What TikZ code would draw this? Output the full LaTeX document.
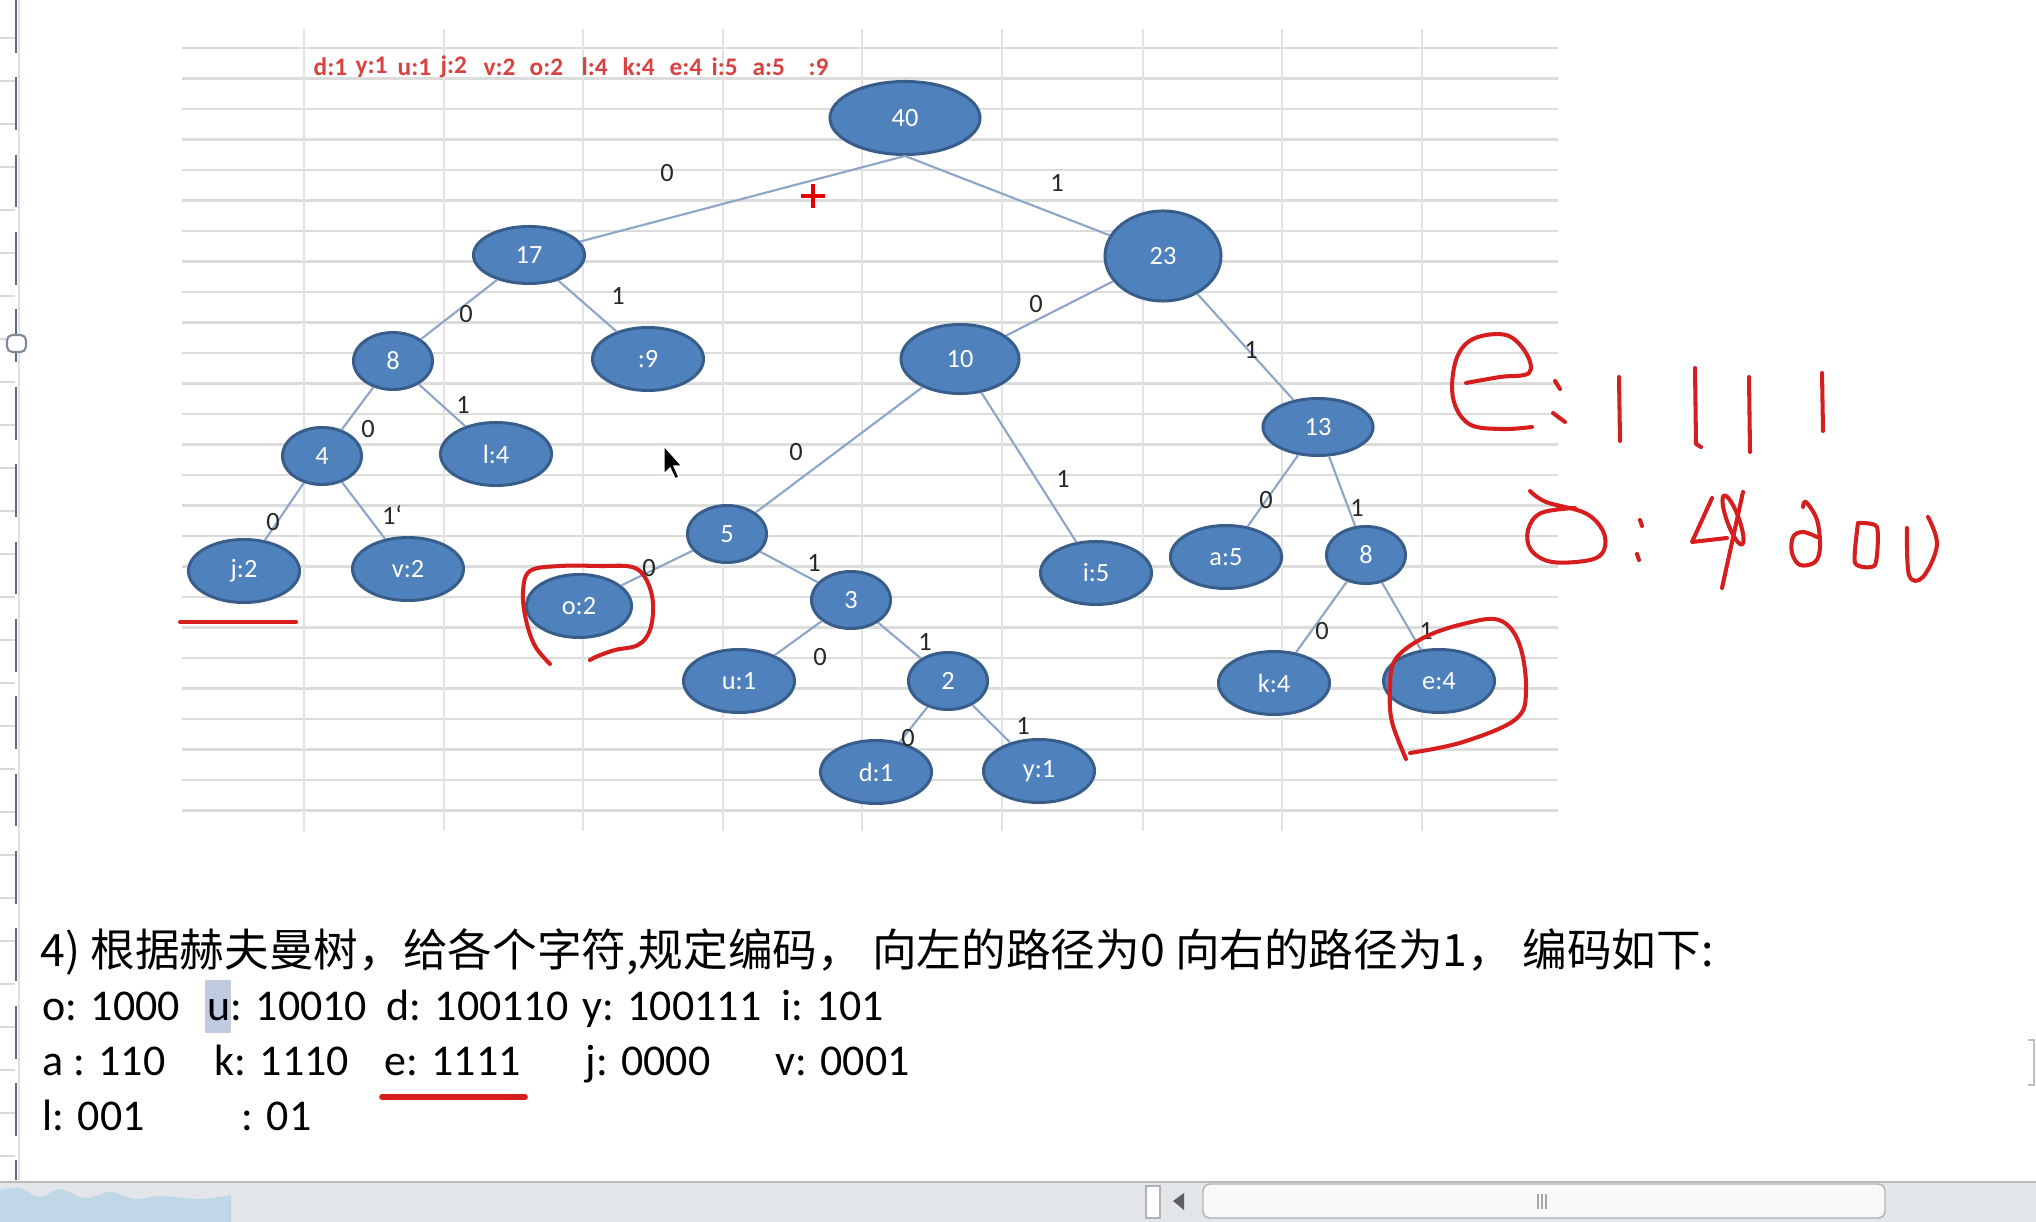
\documentclass[tikz,border=0pt]{standalone}
\usepackage{fontspec}
\setmainfont{Carlito}
\newfontfamily\cjk{Noto Sans CJK SC}
\usetikzlibrary{shapes.geometric}

\begin{document}
\begin{tikzpicture}[x=0.01cm, y=-0.01cm, every node/.style={font=\fontsize{7.5}{9}\selectfont}]
		% Define colors
		\definecolor{nodefill}{RGB}{79, 129, 189}
		\definecolor{nodeline}{RGB}{56, 93, 138}
		\definecolor{edgeblue}{RGB}{140, 165, 200}
		\definecolor{gridgray}{RGB}{220, 220, 220}
		\definecolor{penred}{RGB}{214, 30, 30}
		\definecolor{headred}{RGB}{218, 66, 66}
		\definecolor{selblue}{RGB}{192, 202, 224}
		\definecolor{barblue}{RGB}{192, 215, 232}
		\definecolor{bargray}{RGB}{226, 229, 233}
		\definecolor{slate}{RGB}{95, 108, 128}

		% Styles
		\tikzstyle{leafnode} = [ellipse, fill=nodefill, draw=nodeline, line width=0.85pt, text=white, inner sep=0pt, minimum width=1.11cm, minimum height=0.63cm]
		\tikzstyle{sumnode} = [leafnode, minimum width=0.79cm, minimum height=0.57cm]
		\tikzstyle{treeedge} = [draw=edgeblue, line width=0.6pt]
		\tikzstyle{bitlabel} = [text=black!85, inner sep=0pt]
		\tikzstyle{hgrid} = [draw=gridgray, line width=0.8pt]
		\tikzstyle{vgrid} = [draw=gridgray!80, line width=0.55pt]
		\tikzstyle{pen} = [draw=penred, line width=1.15pt, line cap=round, line join=round]
		\tikzstyle{cjktext} = [anchor=west, inner sep=0pt, font=\cjk\fontsize{12.7}{14}\selectfont]
		\tikzstyle{codetext} = [anchor=base west, inner sep=0pt, font=\fontsize{12.5}{14}\selectfont]

		% Canvas
		\useasboundingbox (0,0) rectangle (2036,1222);
		\fill[white] (0,0) rectangle (2036,1222);

		% Spreadsheet grid
		\foreach \gy in {0,...,25}
			\draw[hgrid] (182,{48+30.5*\gy}) -- (1558,{48+30.5*\gy});
		\foreach \gx in {304,444,583,723,862,1002,1143,1282,1422}
			\draw[vgrid] (\gx,29) -- (\gx,831);

		% Weights row
		\foreach \hx/\hlab in {313/d:1, 355/y:1, 397/u:1, 440/j:2, 483/v:2, 529/o:2, 581/l:4, 622/k:4, 669/e:4, 711/i:5, 752/a:5, 808/:9}
			\node[anchor=west, inner sep=0pt, text=headred, font=\bfseries\fontsize{7.2}{8}\selectfont] (h\hx) at (\hx,67) {\hlab};

		% Tree nodes
		\node[leafnode, minimum width=1.5cm, minimum height=0.73cm] (n40) at (905,118) {40};
		\node[sumnode, minimum width=1.11cm] (n17) at (529,255) {17};
		\node[leafnode, minimum width=1.16cm, minimum height=0.9cm] (n23) at (1163,256) {23};
		\node[sumnode] (n8a) at (393,361) {8};
		\node[leafnode] (n9) at (648,359) {:9};
		\node[leafnode, minimum width=1.18cm, minimum height=0.69cm] (n10) at (960,359) {10};
		\node[sumnode, minimum width=1.1cm] (n13) at (1318,427) {13};
		\node[sumnode] (n4) at (322,456) {4};
		\node[leafnode] (nl4) at (496,454) {l:4};
		\node[leafnode] (nj2) at (244,571) {j:2};
		\node[leafnode] (nv2) at (408,569) {v:2};
		\node[sumnode] (n5) at (727,534) {5};
		\node[leafnode, minimum width=1.05cm] (no2) at (579,606) {o:2};
		\node[sumnode] (n3) at (851,600) {3};
		\node[leafnode] (ni5) at (1096,573) {i:5};
		\node[leafnode] (na5) at (1226,557) {a:5};
		\node[sumnode] (n8b) at (1366,555) {8};
		\node[leafnode] (nu1) at (739,681) {u:1};
		\node[sumnode] (n2) at (948,681) {2};
		\node[leafnode] (nk4) at (1274,683) {k:4};
		\node[leafnode] (ne4) at (1439,681) {e:4};
		\node[leafnode] (nd1) at (876,772) {d:1};
		\node[leafnode] (ny1) at (1039,771) {y:1};

		% Branches
		\draw[treeedge] (n40.south) -- (n17);
		\draw[treeedge] (n40.south) -- (n23);
		\draw[treeedge] (n17) -- (n8a);
		\draw[treeedge] (n17) -- (n9);
		\draw[treeedge] (n23) -- (n10);
		\draw[treeedge] (n23) -- (n13);
		\draw[treeedge] (n8a) -- (n4);
		\draw[treeedge] (n8a) -- (nl4);
		\draw[treeedge] (n10) -- (n5);
		\draw[treeedge] (n10) -- (ni5);
		\draw[treeedge] (n4) -- (nj2);
		\draw[treeedge] (n4) -- (nv2);
		\draw[treeedge] (n13) -- (na5);
		\draw[treeedge] (n13) -- (n8b);
		\draw[treeedge] (n5) -- (no2);
		\draw[treeedge] (n5) -- (n3);
		\draw[treeedge] (n3) -- (nu1);
		\draw[treeedge] (n3) -- (n2);
		\draw[treeedge] (n8b) -- (nk4);
		\draw[treeedge] (n8b) -- (ne4);
		\draw[treeedge] (n2) -- (nd1);
		\draw[treeedge] (n2) -- (ny1);

		% Branch bits
		\node[bitlabel] (b1) at (667,173) {0};
		\node[bitlabel] (b2) at (1057,183) {1};
		\node[bitlabel] (b3) at (466,314) {0};
		\node[bitlabel] (b4) at (618,296) {1};
		\node[bitlabel] (b5) at (1036,304) {0};
		\node[bitlabel] (b6) at (1251,350) {1};
		\node[bitlabel] (b7) at (368,429) {0};
		\node[bitlabel] (b8) at (463,405) {1};
		\node[bitlabel] (b9) at (796,452) {0};
		\node[bitlabel] (b10) at (1063,479) {1};
		\node[bitlabel] (b11) at (273,522) {0};
		\node[bitlabel] (b12) at (392,515) {1`};
		\node[bitlabel] (b13) at (1266,500) {0};
		\node[bitlabel] (b14) at (1357,508) {1};
		\node[bitlabel] (b15) at (649,568) {0};
		\node[bitlabel] (b16) at (814,563) {1};
		\node[bitlabel] (b17) at (820,657) {0};
		\node[bitlabel] (b18) at (925,642) {1};
		\node[bitlabel] (b19) at (1322,631) {0};
		\node[bitlabel] (b20) at (1426,631) {1};
		\node[bitlabel] (b21) at (908,738) {0};
		\node[bitlabel] (b22) at (1023,726) {1};

		% Red pen marks
		\draw[pen] (180,622) -- (296,622);
		\draw[pen] plot[smooth, tension=0.6] coordinates {(550,664) (535,646) (526,620) (523,592) (530,571) (560,566) (600,566) (632,567) (646,579) (653,603) (650,630) (638,645) (615,650) (598,656) (590,660)};
		\draw[pen] plot[smooth, tension=0.6] coordinates {(1406,759) (1392,722) (1390,690) (1395,660) (1423,638) (1463,624) (1499,620) (1519,643) (1526,689) (1516,719) (1463,742) (1410,753)};
		% e : 1111
		\draw[pen] plot[smooth, tension=0.6] coordinates {(1466,383) (1500,377) (1529,373) (1526,353) (1506,335) (1473,339) (1456,360) (1453,398) (1469,424) (1502,429) (1532,427)};
		\draw[pen] (1555,381) -- (1560,389);
		\draw[pen] (1553,413) -- (1565,422);
		\draw[pen] (1619,377) -- (1620,441);
		\draw[pen] (1695,368) -- (1696,444) -- (1701,447);
		\draw[pen] (1749,377) -- (1750,452);
		\draw[pen] (1822,373) -- (1823,431);
		% o : 4000
		\draw[pen] plot[smooth, tension=0.6] coordinates {(1530,491) (1546,502) (1585,513) (1603,531) (1604,550) (1590,560) (1552,562) (1531,550) (1528,530) (1541,513) (1575,508)};
		\draw[pen] (1640,520) -- (1642,526);
		\draw[pen] (1637,554) -- (1639,560);
		\draw[pen] (1712,498) -- (1692,542) -- (1727,538);
		\draw[pen] (1743,492) -- (1722,588);
		\draw[pen, rotate around={20:(1733,520)}] (1733,520) ellipse [x radius=6, y radius=26];
		\draw[pen] plot[smooth, tension=0.6] coordinates {(1803,507) (1806,502) (1817,520) (1820,547) (1815,562) (1800,565) (1792,553) (1793,537) (1803,532) (1817,537)};
		\draw[pen] plot[smooth, tension=0.4] coordinates {(1858,523) (1855,563) (1875,565) (1877,527) (1858,523)};
		\draw[pen] plot[smooth, tension=0.6] coordinates {(1907,528) (1909,575) (1923,577) (1937,545) (1928,517)};

		% Plus mark and mouse pointer
		\draw[draw=red!90!black, line width=1.2pt] (801,196) -- (825,196) (813,184) -- (813,208);
		\draw[fill=black, draw=white, line width=0.4pt] (664,446) -- (664,474) -- (670,468) -- (675,479) -- (679,477) -- (674,466) -- (682,466) -- cycle;

		% Coding text
		\node[cjktext] (line1) at (40,952) {4) 根据赫夫曼树，给各个字符,规定编码， 向左的路径为0 向右的路径为1， 编码如下:};
		\fill[selblue] (205,980) rectangle (231,1033);
		\foreach \cx/\ctext in {42/o: 1000, 207/u: 10010, 386/d: 100110, 582/y: 100111, 781/i: 101}
			\node[codetext] (c2-\cx) at (\cx,1020) {\ctext};
		\foreach \cx/\ctext in {42/a : 110, 214/k: 1110, 384/e: 1111, 585/j: 0000, 775/v: 0001}
			\node[codetext] (c3-\cx) at (\cx,1075) {\ctext};
		\foreach \cx/\ctext in {42/l: 001, 241/: 01}
			\node[codetext] (c4-\cx) at (\cx,1130) {\ctext};
		\draw[pen, line width=1.6pt] (382,1097) -- (525,1097);

		% Window frame
		\foreach \ty in {38,81,...,1180}
			\draw[gray!30, line width=0.5pt] (0,\ty) -- (15,\ty);
		\draw[slate, line width=0.8pt, dash pattern=on 15 off 7] (16,0) -- (16,1180);
		\draw[gray!25, line width=0.5pt] (19,0) -- (19,1180);
		\draw[slate!80, fill=white, line width=0.6pt, rounded corners=1.5pt] (7,335) rectangle (26,352);
		\draw[gray!50, line width=0.6pt] (2028,1040) -- (2034,1040) -- (2034,1085) -- (2028,1085);

		% Scroll bar
		\fill[bargray] (0,1182) rectangle (2036,1222);
		\draw[gray!55, line width=0.6pt] (0,1182) -- (2036,1182);
		\fill[barblue] (0,1222) -- plot[smooth, tension=0.6] coordinates {(0,1190) (20,1188) (40,1197) (60,1189) (85,1198) (110,1192) (135,1199) (160,1196) (200,1199) (231,1195)} -- (231,1222) -- cycle;
		\draw[gray!60, fill=white] (1146,1186) rectangle (1160,1218);
		\fill[gray!75!black] (1173,1201) -- (1184,1193) -- (1184,1210) -- cycle;
		\draw[gray!60, fill=gray!5, rounded corners=2pt] (1203,1184) rectangle (1885,1218);
		\foreach \gx in {1538,1542,1546}
			\draw[gray!70] (\gx,1194) -- (\gx,1209);

	\end{tikzpicture}
\end{document}
